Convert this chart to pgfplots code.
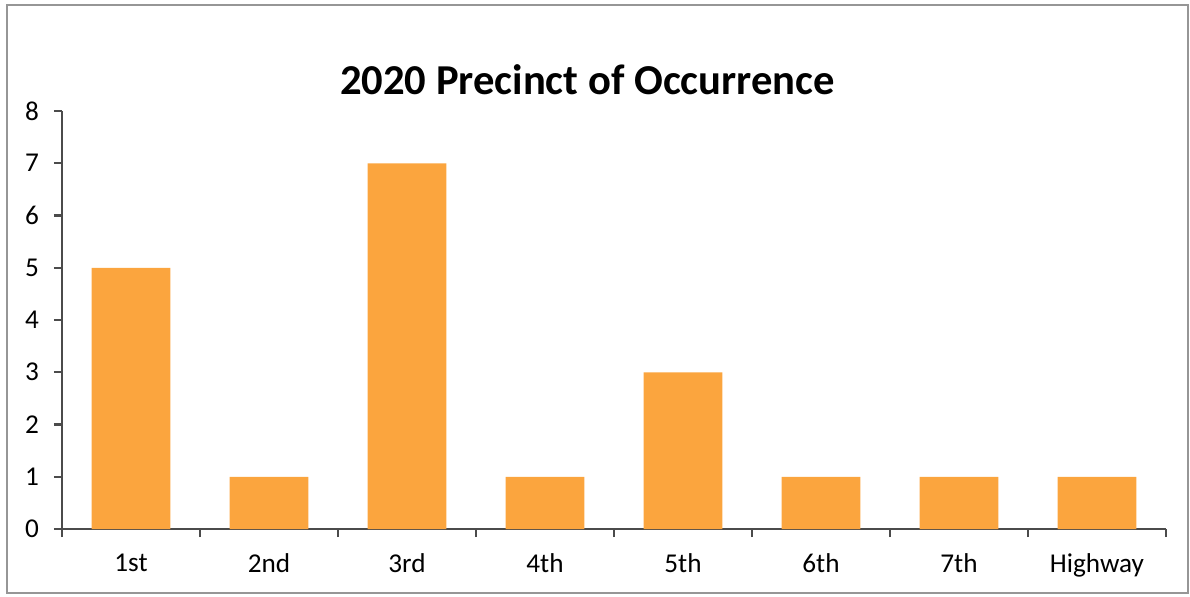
\documentclass[border=0pt]{standalone}
\usepackage{fontspec}
\setmainfont{Carlito}
\usepackage{pgfplots}
\pgfplotsset{compat=1.18}
\definecolor{barorange}{RGB}{251,165,62}
\definecolor{axgray}{RGB}{75,75,75}
\definecolor{framegray}{RGB}{150,150,150}
\begin{document}
\begin{tikzpicture}[x=0.5pt,y=0.5pt]
\path[use as bounding box] (-62,-67) rectangle (1128,529);
\draw[framegray, line width=1pt] (-55,-64) rectangle (1126,524);
\begin{axis}[
  at={(0,0)}, anchor=south west,
  scale only axis, width=552pt, height=209pt,
  xmin=-0.5, xmax=7.5, ymin=0, ymax=8,
  axis lines*=left,
  axis line style={axgray, line width=1.1pt},
  every tick/.style={axgray, line width=1.1pt},
  major tick length=4pt,
  tick align=outside,
  xtick={-0.5,0.5,...,7.5},
  x tick label as interval,
  xticklabels={1st,2nd,3rd,4th,5th,6th,7th,Highway},
  ytick={0,1,...,8},
  xtick pos=bottom, ytick pos=left,
  tick label style={font=\fontsize{13.6}{16}\selectfont, black},
  /pgf/number format/assume math mode=true,
  yticklabel style={xshift=-4pt},
  xticklabel style={yshift=-5pt},
  ybar, bar width=0.57,
  clip=false,
]
\addplot[draw=none, fill=barorange] coordinates {
(0,5) (1,1) (2,7) (3,1) (4,3) (5,1) (6,1) (7,1)};
\end{axis}
\node[font=\bfseries\fontsize{21.3}{25}\selectfont] at (525.5,449) {2020 Precinct of Occurrence};
\end{tikzpicture}
\end{document}
